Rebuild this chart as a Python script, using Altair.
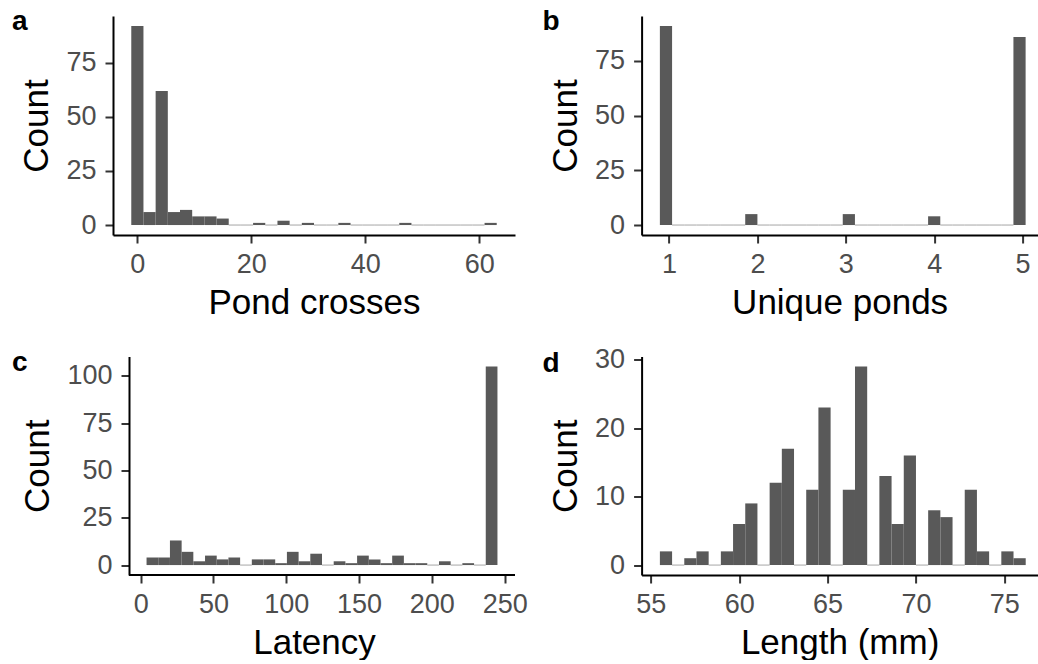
import math
import altair as alt
import pandas as pd

# ---- data: histogram counts per bin (30 bins, ggplot2 default) ----
pond_crosses_range = [0, 62]
pond_crosses_counts = [92, 6, 62, 6, 7, 4, 4, 3, 0, 0, 1, 0, 2, 0, 1,
                       0, 0, 1, 0, 0, 0, 0, 1, 0, 0, 0, 0, 0, 0, 1]

unique_ponds_range = [1, 5]
unique_ponds_counts = [91, 0, 0, 0, 0, 0, 0, 5, 0, 0, 0, 0, 0, 0, 0,
                       5, 0, 0, 0, 0, 0, 0, 4, 0, 0, 0, 0, 0, 0, 86]

latency_range = [7, 240]
latency_counts = [4, 4, 13, 7, 2, 5, 3, 4, 0, 3, 3, 1, 7, 2, 6,
                  0, 2, 1, 5, 3, 1, 5, 1, 1, 0, 2, 0, 1, 0, 105]

length_range = [56, 76]
length_counts = [2, 0, 1, 2, 0, 2, 6, 9, 0, 12, 17, 0, 11, 23, 0,
                 11, 29, 0, 13, 6, 16, 0, 8, 7, 0, 11, 2, 0, 2, 1]

x_ticks = {
    "a": [0, 20, 40, 60],
    "b": [1, 2, 3, 4, 5],
    "c": [0, 50, 100, 150, 200, 250],
    "d": [55, 60, 65, 70, 75],
}
y_ticks = {
    "a": [0, 25, 50, 75],
    "b": [0, 25, 50, 75],
    "c": [0, 25, 50, 75, 100],
    "d": [0, 10, 20, 30],
}
x_titles = {"a": "Pond crosses", "b": "Unique ponds", "c": "Latency", "d": "Length (mm)"}

BAR = "#595959"
FONT = "Liberation Sans"


def bin_table(rng, counts):
    """ggplot2-style bins: width=(max-min)/(bins-1), boundary at width/2."""
    n = len(counts)
    w = (rng[1] - rng[0]) / (n - 1)
    origin = w / 2 + math.floor((rng[0] - w / 2) / w) * w
    starts = [origin + k * w for k in range(n)]
    ends = [s + w for s in starts]
    return pd.DataFrame({"start": starts, "end": ends, "count": counts})


def panel(key, rng, counts, panel_width, height, lx, ly,
          visible_width=None, left_inset=0):
    df = bin_table(rng, counts)
    lo, hi = df["start"].min(), df["end"].max()
    span = hi - lo
    xlo, xhi = lo - 0.05 * span, hi + 0.05 * span
    per_px = (xhi - xlo) / panel_width
    width = panel_width
    if visible_width is not None:
        # the reference figure is cut off on its right side
        xhi = xlo + per_px * visible_width
        width = visible_width
    if left_inset:
        # panel starts further right (wider tick labels): extend domain left
        xlo = xlo - per_px * left_inset
        width = width + left_inset
    cmax = max(counts)
    ydom = [-0.05 * cmax, 1.05 * cmax]

    xs = alt.Scale(domain=[xlo, xhi], nice=False, zero=False)
    ys = alt.Scale(domain=ydom, nice=False, zero=False)

    bars = alt.Chart(df).mark_rect(color=BAR).encode(
        x=alt.X("start:Q", scale=xs,
                axis=alt.Axis(values=x_ticks[key], title=x_titles[key], format="d",
                              domain=(left_inset == 0))),
        x2="end:Q",
        y=alt.Y("count:Q", scale=ys,
                axis=alt.Axis(values=y_ticks[key], title="Count", format="d",
                              offset=-left_inset)),
        y2=alt.datum(0),
    )
    zero = alt.Chart(df[df["count"] == 0]).mark_rule(
        color="#a6a6a6", strokeWidth=1
    ).encode(x="start:Q", x2="end:Q", y=alt.datum(0))

    letter = alt.Chart(pd.DataFrame({"label": [key]})).mark_text(
        font=FONT, fontSize=28, fontWeight="bold", color="black",
        align="left", baseline="alphabetic"
    ).encode(text="label:N", x=alt.value(lx), y=alt.value(ly))

    layers = [zero, bars, letter]
    if left_inset:
        axis_line = alt.Chart(pd.DataFrame({"label": [key]})).mark_rule(
            color="black", strokeWidth=2
        ).encode(x=alt.value(left_inset), x2=alt.value(width), y=alt.value(height))
        layers.append(axis_line)

    return alt.layer(*layers).properties(width=width, height=height)


pa = panel("a", pond_crosses_range, pond_crosses_counts, 402, 219, -101, 14)
pb = panel("b", unique_ponds_range, unique_ponds_counts, 402.3, 219, -99, 14,
           visible_width=396)
pc = panel("c", latency_range, latency_counts, 386, 218.5, -101, 14.5,
           left_inset=16)
pd_ = panel("d", length_range, length_counts, 402.4, 218.5, -99, 15,
            visible_width=396)

chart = alt.concat(
    pa, pb, pc, pd_, columns=2, bounds="flush",
    spacing={"row": 121.5, "column": 126.6},
).properties(
    padding={"left": 12, "top": 8, "right": 0, "bottom": 0}
).configure_view(stroke=None).configure_axis(
    grid=False,
    domainColor="black",
    domainWidth=2,
    tickColor="#333333",
    tickWidth=2,
    tickSize=8,
    labelFont=FONT,
    labelFontSize=27,
    labelColor="#4D4D4D",
    labelOverlap=False,
    labelFlush=False,
    titleFont=FONT,
    titleFontSize=35,
    titleFontWeight="normal",
    titleColor="black",
).configure_axisX(
    labelPadding=8, titlePadding=8
).configure_axisY(
    labelPadding=9, titlePadding=11.5
)

chart.save("out.html", embed_options={"renderer": "svg", "actions": False})
